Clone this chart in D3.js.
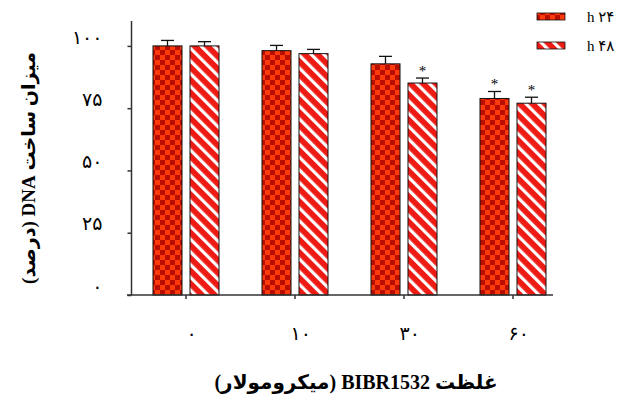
<!DOCTYPE html>
<html>
<head>
<meta charset="utf-8">
<script src="https://cdn.jsdelivr.net/npm/d3@7"></script>
<style>
  html, body { margin: 0; padding: 0; background: #fff; }
  svg { display: block; }
  text { font-family: "Liberation Serif", "Times New Roman", "DejaVu Sans", serif; fill: #000; }
</style>
</head>
<body>
<svg id="chart" width="625" height="396"></svg>
<script>
// Concentrations (µM) in Persian numerals
const categories = ["۰", "۱۰", "۳۰", "۶۰"];
const seriesKeys = ["h24", "h48"];
const seriesLabels = ["h ۲۴", "h ۴۸"];
// DNA synthesis (% of control)
const h24 = [100, 98.1, 92.8, 78.9];
const h48 = [100, 96.9, 85.1, 77.0];
// error bar heights (upper only)
const err24 = [2.2, 2.1, 3.0, 2.8];
const err48 = [1.7, 1.7, 2.0, 2.4];
// significance markers
const sig24 = [false, false, false, true];
const sig48 = [false, false, true, true];
const yTicks = [0, 25, 50, 75, 100];
const yTickLabels = ["۰", "۲۵", "۵۰", "۷۵", "۱۰۰"];

const svg = d3.select("#chart");
const defs = svg.append("defs");

// checkerboard fill
const chk = defs.append("pattern").attr("id", "checker")
  .attr("patternUnits", "userSpaceOnUse").attr("width", 10).attr("height", 10);
chk.append("rect").attr("width", 10).attr("height", 10).attr("fill", "#ff3a0a");
chk.append("rect").attr("x", 0).attr("y", 0).attr("width", 5).attr("height", 5).attr("fill", "#b80e00");
chk.append("rect").attr("x", 5).attr("y", 5).attr("width", 5).attr("height", 5).attr("fill", "#b80e00");

// diagonal stripe fill
const str = defs.append("pattern").attr("id", "stripes")
  .attr("patternUnits", "userSpaceOnUse").attr("width", 9).attr("height", 9)
  .attr("patternTransform", "rotate(-45)");
str.append("rect").attr("width", 9).attr("height", 9).attr("fill", "#ee1a14");
str.append("rect").attr("x", 0).attr("width", 3.2).attr("height", 9).attr("fill", "#ffffff");

const fills = { h24: "url(#checker)", h48: "url(#stripes)" };

const x0 = d3.scaleBand().domain(categories).range([131.5, 567.5]).padding(0);
const x1 = d3.scaleBand().domain(seriesKeys).range([-33, 33]).paddingInner(0.216).paddingOuter(0);
const y = d3.scaleLinear().domain([0, 110]).range([295, 21]);

const values = { h24, h48 };
const errs = { h24: err24, h48: err48 };
const sigs = { h24: sig24, h48: sig48 };

const rows = [];
categories.forEach((c, i) => {
  seriesKeys.forEach(k => {
    rows.push({ cat: c, key: k, value: values[k][i], err: errs[k][i], sig: sigs[k][i] });
  });
});

const cx = d => x0(d.cat) + x0.bandwidth() / 2 + x1(d.key);

// bars
svg.append("g").selectAll("rect").data(rows).join("rect")
  .attr("x", d => cx(d))
  .attr("y", d => y(d.value))
  .attr("width", x1.bandwidth())
  .attr("height", d => y(0) - y(d.value))
  .attr("fill", d => fills[d.key])
  .attr("stroke", "#111")
  .attr("stroke-width", 1);

// error bars
const eb = svg.append("g").attr("stroke", "#111").attr("stroke-width", 1.3);
rows.forEach(d => {
  const mx = cx(d) + x1.bandwidth() / 2;
  eb.append("line").attr("x1", mx).attr("x2", mx).attr("y1", y(d.value)).attr("y2", y(d.value + d.err));
  eb.append("line").attr("x1", mx - 6.5).attr("x2", mx + 6.5).attr("y1", y(d.value + d.err)).attr("y2", y(d.value + d.err));
});

// significance stars
svg.append("g").selectAll("text").data(rows.filter(d => d.sig)).join("text")
  .attr("x", d => cx(d) + x1.bandwidth() / 2)
  .attr("y", d => y(d.value + d.err) - 2)
  .attr("text-anchor", "middle")
  .attr("font-size", 15)
  .text("*");

// y axis
const yAxis = svg.append("g").attr("transform", "translate(131.5,0)")
  .call(d3.axisLeft(y).tickValues(yTicks).tickSize(4).tickFormat((d, i) => yTickLabels[i]));
yAxis.select(".domain").attr("d", `M0,${y(110)}V${y(0)}`).attr("stroke", "#333").attr("stroke-width", 1.5);
yAxis.selectAll(".tick line").attr("stroke", "#333").attr("stroke-width", 1.5);
yAxis.selectAll(".tick text").attr("x", -29).attr("dy", "-0.15em")
  .attr("font-size", 19).attr("font-family", "Liberation Serif, serif");

// x axis
const xAxis = svg.append("g").attr("transform", `translate(0,${y(0)})`)
  .call(d3.axisBottom(x0).tickSize(4).tickSizeOuter(0));
xAxis.select(".domain").attr("d", "M127,0H553").attr("stroke", "#333").attr("stroke-width", 1.5);
xAxis.selectAll(".tick text").attr("y", 32).attr("dx", "0.3em")
  .attr("font-size", 19).attr("font-family", "Liberation Serif, serif");
xAxis.selectAll(".tick line").attr("stroke", "#333").attr("stroke-width", 1.5);

// axis titles
svg.append("text")
  .attr("x", 356).attr("y", 389)
  .attr("text-anchor", "middle")
  .attr("font-size", 20).attr("font-weight", "bold")
  .attr("direction", "rtl")
  .text("غلظت BIBR1532 (میکرومولار)");

svg.append("text")
  .attr("transform", "translate(35,168) rotate(-90)")
  .attr("text-anchor", "middle")
  .attr("font-size", 19).attr("font-weight", "bold")
  .attr("direction", "rtl")
  .text("میزان ساخت DNA (درصد)");

// legend
const legend = svg.append("g");
seriesKeys.forEach((k, i) => {
  const ly = 13 + i * 29;
  legend.append("rect").attr("x", 537).attr("y", ly).attr("width", 28).attr("height", 7)
    .attr("fill", fills[k]).attr("stroke", "#111").attr("stroke-width", 0.8);
  legend.append("text").attr("x", 587).attr("y", ly + 9)
    .attr("font-size", 15).attr("direction", "ltr").attr("unicode-bidi", "plaintext")
    .text(seriesLabels[i]);
});
</script>
</body>
</html>
